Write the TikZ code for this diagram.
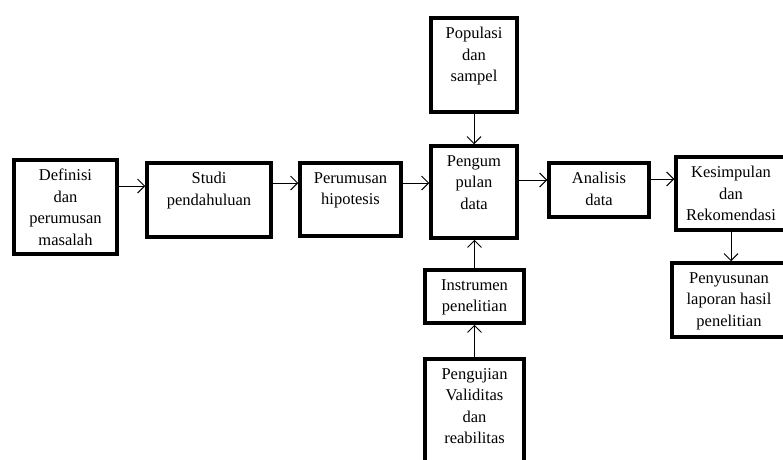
\documentclass[tikz,border=0pt]{standalone}
\usepackage{fontspec}
\setmainfont{Liberation Serif}
\usetikzlibrary{arrows.meta}

\tikzset{
    kotak/.style 2 args={draw=black, line width=3.5pt, minimum width=#1, minimum height=#2, inner sep=0pt},
    teks/.style={anchor=north, yshift=-11pt, align=center, inner sep=0pt, outer sep=0pt, font=\fontsize{16.5}{21.5}\selectfont},
    arr/.style={draw=black, line width=1pt, -{Straight Barb[length=7pt,width=14pt]}},
}

\begin{document}
\begin{tikzpicture}[x=1pt, y=-1pt]

    \clip (0,0) rectangle (783,459);
    \fill[white] (0,0) rectangle (783,459);

    \node[kotak={103pt}{94pt}, label={[teks]north:Definisi\\dan\\perumusan\\masalah}] (defin) at (65.5,207) {};
    \node[kotak={124pt}{74pt}, label={[teks]north:Studi\\pendahuluan}] (studi) at (209,200) {};
    \node[kotak={101pt}{73pt}, label={[teks]north:Perumusan\\hipotesis}] (rumus) at (350.5,199.5) {};
    \node[kotak={86pt}{92pt}, label={[teks]north:Pengum\\pulan\\data}] (kumpul) at (474,192) {};
    \node[kotak={86pt}{94pt}, label={[teks]north:Populasi\\dan\\sampel}] (popul) at (474,65) {};
    \node[kotak={100pt}{54pt}, label={[teks]north:Analisis\\data}] (analis) at (599,190) {};
    \node[kotak={110pt}{73pt}, label={[teks]north:Kesimpulan\\dan\\Rekomendasi}] (simpul) at (731,193.5) {};
    \node[kotak={114pt}{74pt}, label={[teks]north:Penyusunan\\laporan hasil\\penelitian}] (susun) at (729,300) {};
    \node[kotak={99pt}{53pt}, label={[teks]north:Instrumen\\penelitian}] (instr) at (474.5,296.5) {};
    \node[kotak={99pt}{108pt}, label={[teks]north:Pengujian\\Validitas\\dan\\reabilitas}] (uji) at (474.5,413) {};

    \draw[arr] (defin.east |- 0,186) -- (studi.west |- 0,186);
    \draw[arr] (studi.east |- 0,183) -- (rumus.west |- 0,183);
    \draw[arr] (rumus.east |- 0,183) -- (kumpul.west |- 0,183);
    \draw[arr] (kumpul.east |- 0,180) -- (analis.west |- 0,180);
    \draw[arr] (analis.east |- 0,179) -- (simpul.west |- 0,179);
    \draw[arr] (popul.south) -- (kumpul.north);
    \draw[arr] (simpul.south) -- (simpul.south |- susun.north);
    \draw[arr] (instr.north) -- (kumpul.south -| instr.north);
    \draw[arr] (uji.north) -- (instr.south);

\end{tikzpicture}
\end{document}
